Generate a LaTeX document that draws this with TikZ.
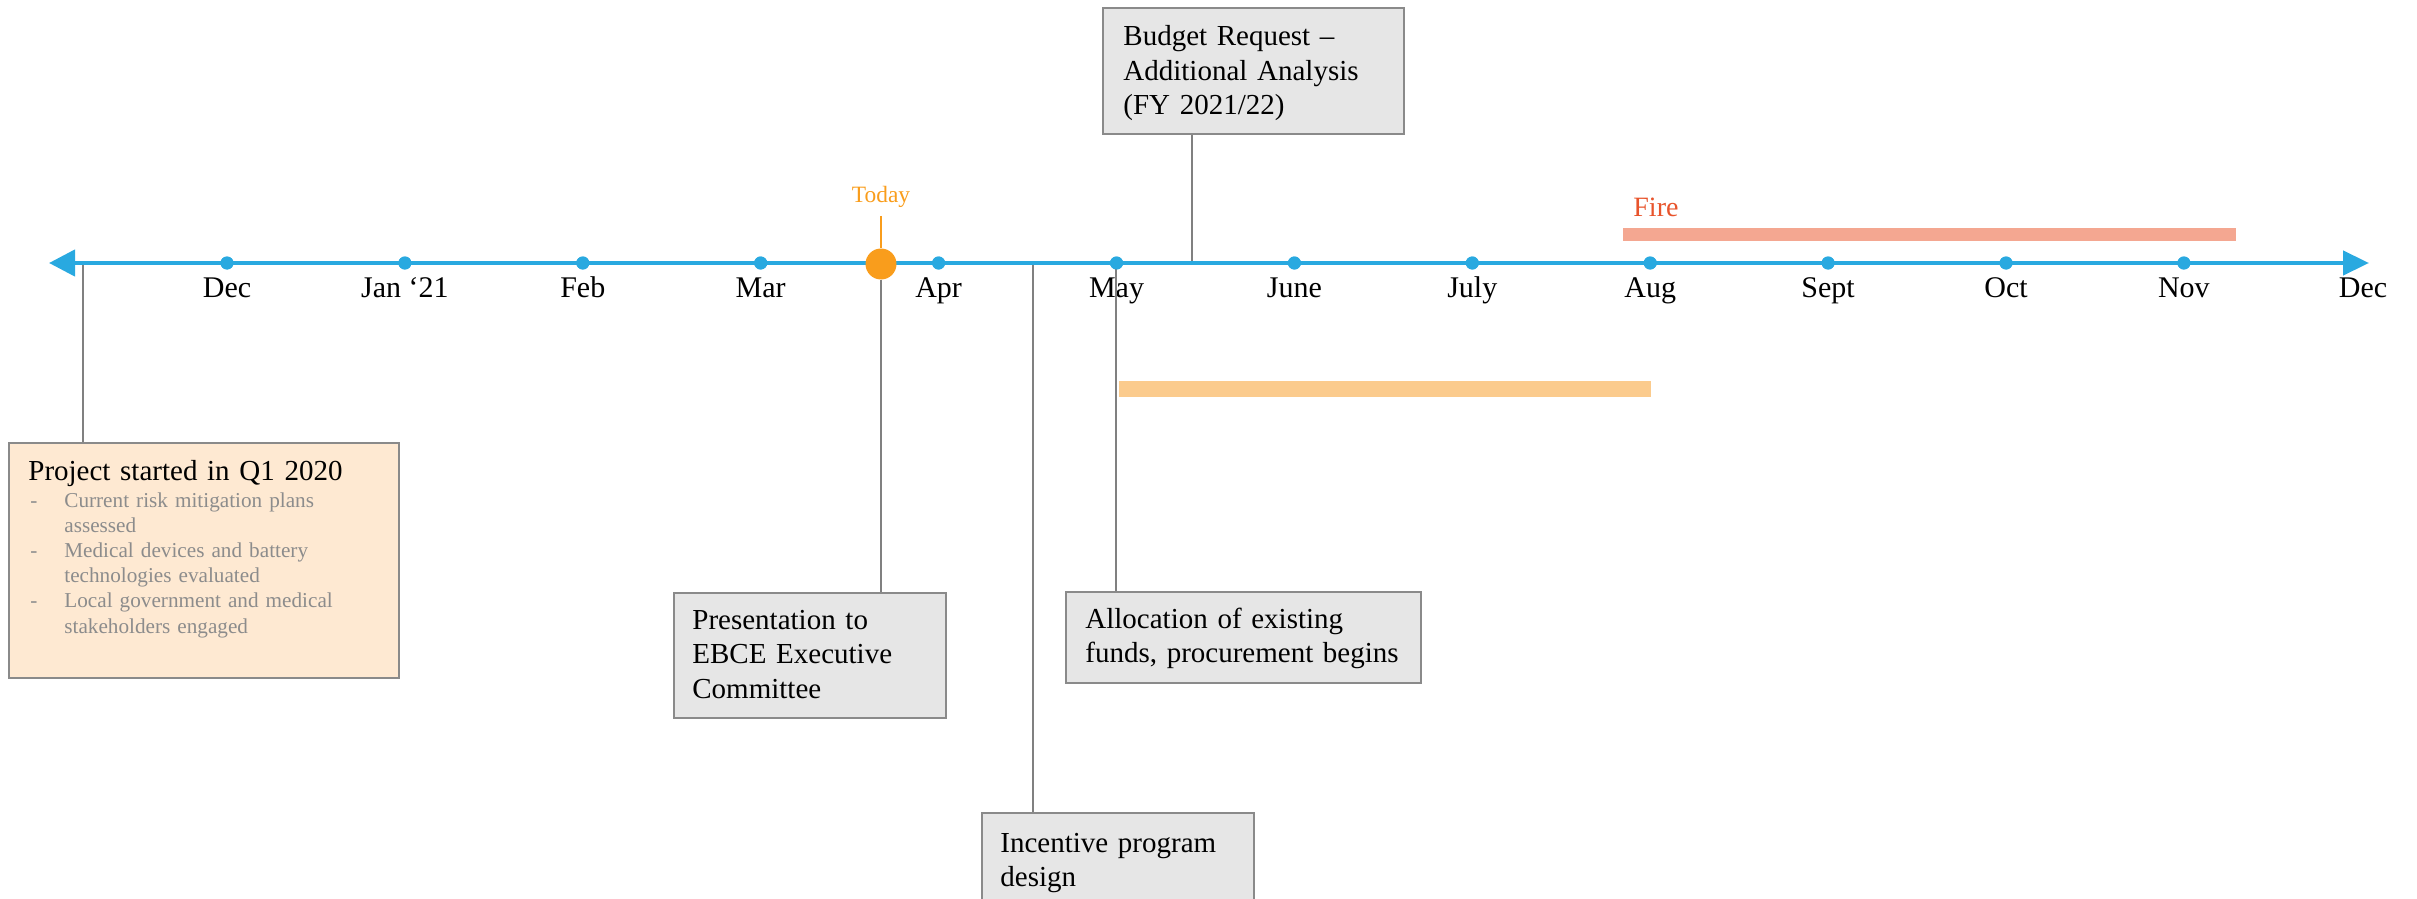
\documentclass[tikz,border=0pt]{standalone}
\usepackage{fontspec}
\setmainfont{Liberation Serif}
\usetikzlibrary{arrows.meta}
\definecolor{axisblue}{HTML}{29A9E0}
\definecolor{todayorange}{HTML}{F99D1C}
\definecolor{firered}{HTML}{E8542C}
\definecolor{firebarc}{HTML}{F4A791}
\definecolor{orangebarc}{HTML}{FBCB8D}
\definecolor{boxgray}{HTML}{E6E6E6}
\definecolor{boxpeach}{HTML}{FEE9D2}
\definecolor{bordergray}{HTML}{8A8A8A}
\definecolor{conngray}{HTML}{808080}
\definecolor{bulletgray}{HTML}{8C8C8C}
\begin{document}
\begin{tikzpicture}[x=0.5pt,y=-0.5pt,
  axisline/.style={draw=axisblue, line width=2.2pt,
    {Triangle[length=13pt,width=13pt]}-{Triangle[length=13pt,width=12pt]}},
  dot/.style={circle, fill=axisblue, inner sep=0pt, minimum size=6.5pt},
  todaydot/.style={circle, fill=todayorange, inner sep=0pt, minimum size=15.5pt},
  monthlbl/.style={inner sep=0pt, font=\fontsize{15}{18}\selectfont},
  conn/.style={draw=conngray, line width=0.9pt},
  todayline/.style={draw=todayorange, line width=0.8pt},
  graybox/.style={draw=bordergray, line width=0.9pt, fill=boxgray, inner sep=0pt, anchor=north west},
  peachbox/.style={draw=bordergray, line width=0.9pt, fill=boxpeach, inner sep=0pt, anchor=north west},
  boxtext/.style={inner sep=0pt, anchor=base west, align=left, font=\fontsize{14.5}{17.25}\selectfont},
  bullettext/.style={inner sep=0pt, anchor=base west, align=left, text=bulletgray, font=\fontsize{10.6}{12.6}\selectfont},
]
\useasboundingbox (0,0) rectangle (2417,899);
\clip (0,0) rectangle (2417,899);

% bars
\fill[firebarc] (1623,228) rectangle (2236,241);
\fill[orangebarc] (1119,381) rectangle (1651,397);
\node[anchor=base west, inner sep=0pt, text=firered, font=\fontsize{14}{16}\selectfont] (firelbl) at (1633,217) {Fire};

% boxes
\node[graybox, minimum width=150.5pt, minimum height=63pt] (budget) at (1102,7) {};
\node[boxtext, text width=140pt] (budgett) at (1123,46) {Budget Request –\\Additional Analysis\\(FY 2021/22)};

\node[graybox, minimum width=136pt, minimum height=62.5pt] (pres) at (673,592) {};
\node[boxtext, text width=125pt] (prest) at (692,629) {Presentation to\\EBCE Executive\\Committee};

\node[graybox, minimum width=177.5pt, minimum height=45.5pt] (alloc) at (1065,591) {};
\node[boxtext, text width=170pt] (alloct) at (1085,628) {Allocation of existing\\funds, procurement begins};

\node[graybox, minimum width=136pt, minimum height=70pt] (inc) at (981,812) {};
\node[boxtext, text width=125pt] (inct) at (1000,852) {Incentive program\\design};

\node[peachbox, minimum width=195pt, minimum height=117.5pt] (proj) at (8,442) {};
\node[boxtext, text width=185pt] (projt) at (28,480) {Project started in Q1 2020};
\node[bullettext, text width=180pt] (projb) at (30,507) {%
\makebox[17pt][l]{-}Current risk mitigation plans\\
\hspace*{17pt}assessed\\
\makebox[17pt][l]{-}Medical devices and battery\\
\hspace*{17pt}technologies evaluated\\
\makebox[17pt][l]{-}Local government and medical\\
\hspace*{17pt}stakeholders engaged};

% axis anchor points
\coordinate (axL) at (49,263);
\coordinate (axR) at (2369,263);
\coordinate (px) at (83,263);
\coordinate (ix) at (1033,263);
\coordinate (bx) at (1192,263);
\coordinate (ax) at (1116,263);

% month dots and labels
\foreach \i/\lab in {0/Dec,1/Jan ‘21,2/Feb,3/Mar,4/Apr,5/May,6/June,7/July,8/Aug,9/Sept,10/Oct,11/Nov}{
  \node[dot] (m\i) at ({227+177.9*\i},263) {};
  \node[monthlbl, anchor=base] (l\i) at ({227+177.9*\i},297) {\lab};
}
\node[monthlbl, anchor=base] (l12) at (2363,297) {Dec};

% connectors
\draw[conn] (px) -- (proj.north -| px);
\draw[conn] (ix) -- (inc.north -| ix);
\draw[conn] (budget.south -| bx) -- (bx);
\draw[conn] (ax) -- (alloc.north -| ax);

% axis
\draw[axisline] (axL) -- (axR);
\foreach \i in {0,...,11}{ \fill[axisblue] (m\i) circle (3.25pt); }

% today
\node[todaydot] (today) at (881,264) {};
\coordinate (tt) at (881,216);
\node[anchor=base, inner sep=0pt, text=todayorange, font=\fontsize{11.7}{14}\selectfont] (todaylbl) at (881,203) {Today};
\draw[todayline] (tt) -- (today.north);
\draw[conn] (today.south) -- (pres.north -| today);
\end{tikzpicture}
\end{document}
